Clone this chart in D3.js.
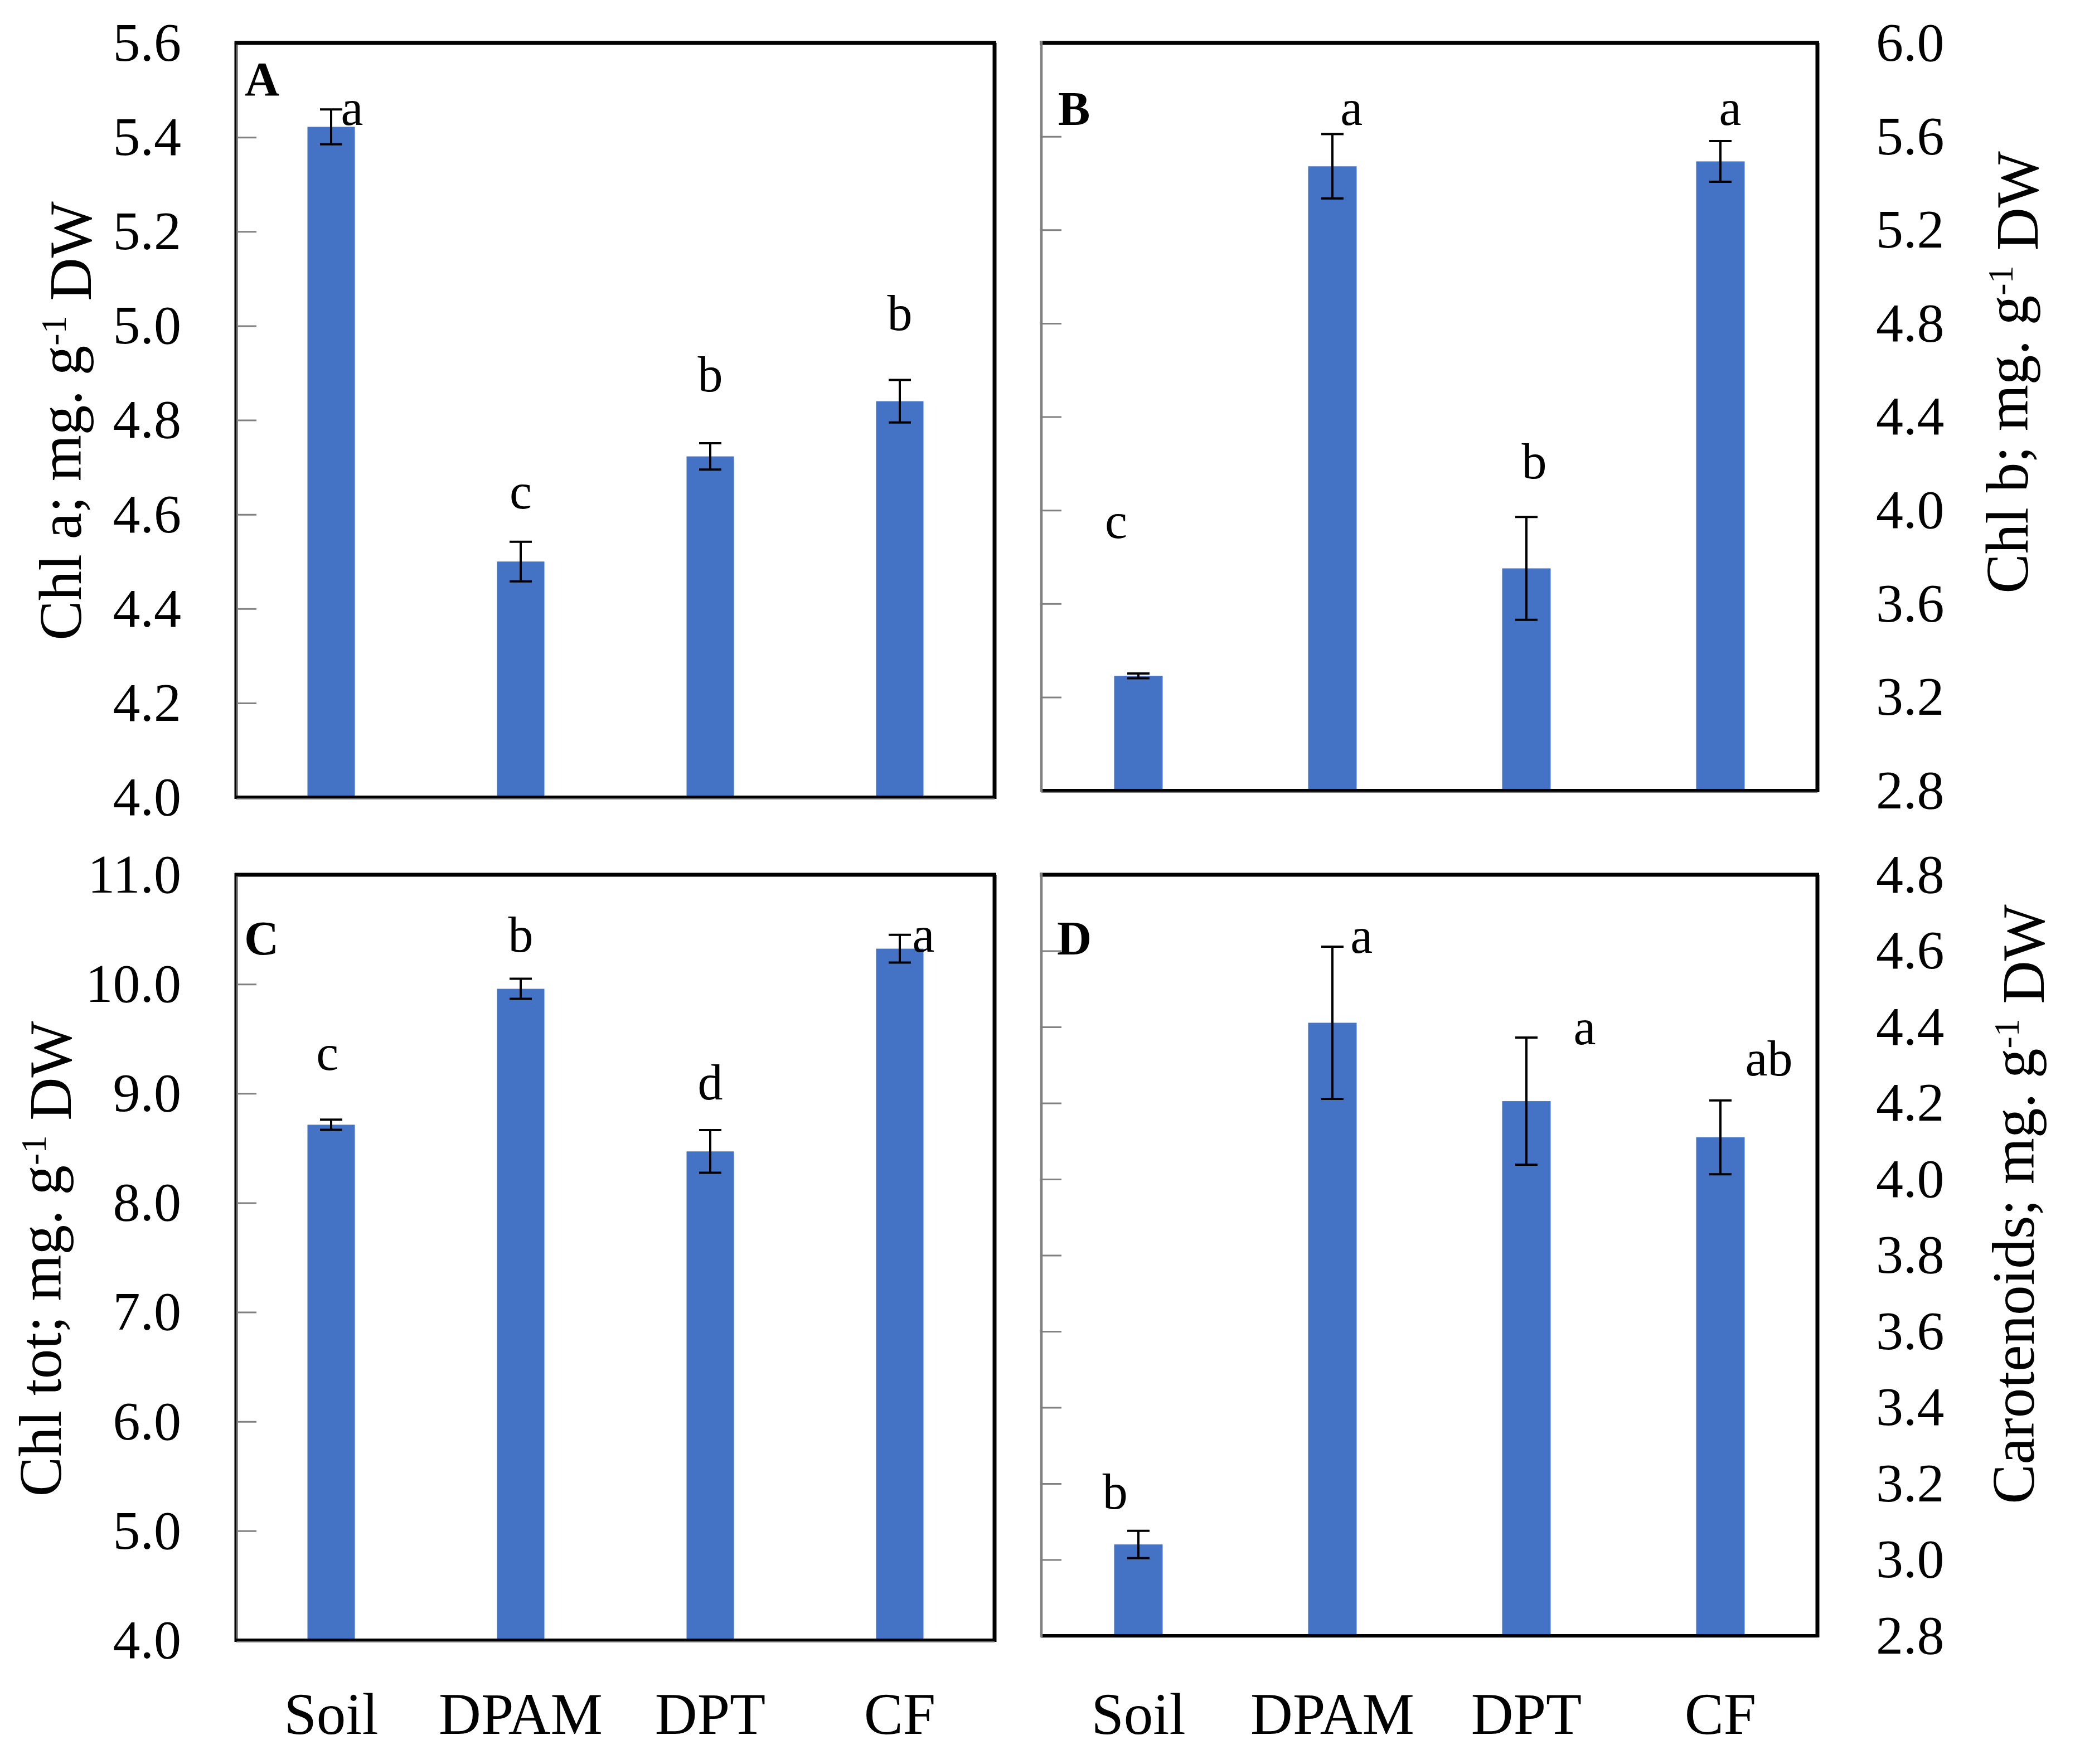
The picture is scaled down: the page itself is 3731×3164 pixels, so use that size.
<!DOCTYPE html>
<html lang="en">
<head>
<meta charset="UTF-8">
<title>Chl a, Chl b, Chl tot, Carotenoids</title>
<script src="https://cdn.jsdelivr.net/npm/d3@7/dist/d3.min.js"></script>
<style>
  body { margin: 0; background: #fff; }
  svg text { font-family: "Palatino Linotype", "Book Antiqua", Palatino, "Liberation Serif", serif; fill: #000; }
</style>
</head>
<body>
<svg id="chart" width="3731" height="3164"></svg>
<script>
// treatments (x axis)
var categories = ["Soil", "DPAM", "DPT", "CF"];

// A: Chl a
var chlA = [5.422, 4.500, 4.723, 4.840];
var chlAErr = [0.037, 0.042, 0.028, 0.045];
var chlALetters = ["a", "c", "b", "b"];
var chlATicks = [4.0, 4.2, 4.4, 4.6, 4.8, 5.0, 5.2, 5.4, 5.6];

// B: Chl b
var chlB = [3.291, 5.472, 3.751, 5.493];
var chlBErr = [0.010, 0.138, 0.220, 0.087];
var chlBLetters = ["c", "a", "b", "a"];
var chlBTicks = [2.8, 3.2, 3.6, 4.0, 4.4, 4.8, 5.2, 5.6, 6.0];

// C: Chl tot
var chlTot = [8.714, 9.957, 8.470, 10.324];
var chlTotErr = [0.046, 0.092, 0.195, 0.127];
var chlTotLetters = ["c", "b", "d", "a"];
var chlTotTicks = [4.0, 5.0, 6.0, 7.0, 8.0, 9.0, 10.0, 11.0];

// D: Carotenoids
var carot = [3.040, 4.411, 4.205, 4.110];
var carotErr = [0.036, 0.200, 0.167, 0.097];
var carotLetters = ["b", "a", "a", "ab"];
var carotTicks = [2.8, 3.0, 3.2, 3.4, 3.6, 3.8, 4.0, 4.2, 4.4, 4.6, 4.8];

// layout of the four panels
var panels = [
  { tag: "A", tagPos: [439, 171], x0: 424, x1: 1784, y0: 77, y1: 1430, domain: [4.0, 5.6],
    values: chlA, err: chlAErr, letters: chlALetters, ticks: chlATicks, side: "left",
    title: "Chl a; mg. g", titleX: 145, titleY: 755, xLabels: false,
    letterAt: [5.426, 4.613, 4.861, 4.991], letterDx: [0.11, 0, 0, 0] },
  { tag: "B", tagPos: [1898, 224], x0: 1868, x1: 3260, y0: 77, y1: 1418, domain: [2.8, 6.0],
    values: chlB, err: chlBErr, letters: chlBLetters, ticks: chlBTicks, side: "right",
    title: "Chl b; mg. g", titleX: 3637, titleY: 668, xLabels: false,
    letterAt: [3.881, 5.649, 4.137, 5.649], letterDx: [-0.115, 0.098, 0.04, 0.05] },
  { tag: "C", tagPos: [438, 1712], x0: 424, x1: 1784, y0: 1569, y1: 2942, domain: [4.0, 11.0],
    values: chlTot, err: chlTotErr, letters: chlTotLetters, ticks: chlTotTicks, side: "left",
    title: "Chl tot; mg. g", titleX: 109, titleY: 2258, xLabels: true,
    letterAt: [9.216, 10.296, 8.946, 10.296], letterDx: [-0.02, 0, 0, 0.125] },
  { tag: "D", tagPos: [1896, 1712], x0: 1868, x1: 3260, y0: 1569, y1: 2934, domain: [2.8, 4.8],
    values: carot, err: carotErr, letters: carotLetters, ticks: carotTicks, side: "right",
    title: "Carotenoids; mg. g", titleX: 3648, titleY: 2160, xLabels: true,
    letterAt: [3.134, 4.595, 4.355, 4.273], letterDx: [-0.12, 0.15, 0.3, 0.25] }
];

var svg = d3.select("#chart");
svg.append("rect").attr("width", 3731).attr("height", 3164).attr("fill", "#fff");

var barColor = "#4472C4";
var fmt = d3.format(".1f");

panels.forEach(function(p) {
  var x = d3.scaleBand().domain(categories).range([p.x0, p.x1]).padding(0);
  var y = d3.scaleLinear().domain(p.domain).range([p.y1, p.y0]);
  var bw = x.bandwidth() * 0.25;
  var g = svg.append("g");

  // bars
  g.selectAll("rect.bar")
    .data(p.values)
    .enter()
    .append("rect")
    .attr("class", "bar")
    .attr("x", function(d, i) { return x(categories[i]) + x.bandwidth() / 2 - bw / 2; })
    .attr("y", function(d) { return y(d); })
    .attr("width", bw)
    .attr("height", function(d) { return y(p.domain[0]) - y(d); })
    .attr("fill", barColor);

  // inward ticks on the left edge
  var leftAxis = d3.axisLeft(y).tickValues(p.ticks).tickSize(-36)
    .tickPadding(p.side === "left" ? 99 : 0)
    .tickFormat(p.side === "left" ? fmt : "");
  var la = g.append("g").attr("transform", "translate(" + p.x0 + ",0)").call(leftAxis);
  la.attr("font-size", null).attr("font-family", null);
  la.select(".domain").remove();
  la.selectAll("line").attr("stroke", "#808080").attr("stroke-width", 3);
  la.selectAll("text").style("font-size", "98px");

  if (p.side === "right") {
    var ra = g.append("g").attr("transform", "translate(" + p.x1 + ",0)")
      .call(d3.axisRight(y).tickValues(p.ticks).tickSize(0).tickPadding(105).tickFormat(fmt));
    ra.attr("font-size", null).attr("font-family", null);
    ra.select(".domain").remove();
    ra.selectAll("text").style("font-size", "98px");
  }

  // frame
  g.append("line").attr("x1", p.x0 - 3).attr("x2", p.x1 + 3).attr("y1", p.y0).attr("y2", p.y0)
    .attr("stroke", "#000").attr("stroke-width", 7);
  g.append("line").attr("x1", p.x1).attr("x2", p.x1).attr("y1", p.y0).attr("y2", p.y1 + 3)
    .attr("stroke", "#000").attr("stroke-width", 7);
  g.append("line").attr("x1", p.x0).attr("x2", p.x1 + 3).attr("y1", p.y1).attr("y2", p.y1)
    .attr("stroke", "#000").attr("stroke-width", 6);
  g.append("line").attr("x1", p.x0).attr("x2", p.x1).attr("y1", p.y1 + 3).attr("y2", p.y1 + 3)
    .attr("stroke", "#808080").attr("stroke-width", 2);
  if (p.side === "left") {
    g.append("line").attr("x1", p.x0 - 1.5).attr("x2", p.x0 - 1.5).attr("y1", p.y0 - 3).attr("y2", p.y1 + 3)
      .attr("stroke", "#000").attr("stroke-width", 4);
    g.append("line").attr("x1", p.x0 + 1.5).attr("x2", p.x0 + 1.5).attr("y1", p.y0 + 3).attr("y2", p.y1 - 3)
      .attr("stroke", "#808080").attr("stroke-width", 3);
  } else {
    g.append("line").attr("x1", p.x0).attr("x2", p.x0).attr("y1", p.y0 - 3).attr("y2", p.y1 + 3)
      .attr("stroke", "#808080").attr("stroke-width", 4.5);
  }

  // error bars
  var eb = g.selectAll("g.err")
    .data(p.values)
    .enter()
    .append("g")
    .attr("class", "err")
    .attr("stroke", "#000")
    .attr("stroke-width", 4);
  eb.append("line")
    .attr("x1", function(d, i) { return x(categories[i]) + x.bandwidth() / 2; })
    .attr("x2", function(d, i) { return x(categories[i]) + x.bandwidth() / 2; })
    .attr("y1", function(d, i) { return y(d + p.err[i]); })
    .attr("y2", function(d, i) { return y(d - p.err[i]); });
  [1, -1].forEach(function(s) {
    eb.append("line")
      .attr("x1", function(d, i) { return x(categories[i]) + x.bandwidth() / 2 - 20; })
      .attr("x2", function(d, i) { return x(categories[i]) + x.bandwidth() / 2 + 20; })
      .attr("y1", function(d, i) { return y(d + s * p.err[i]); })
      .attr("y2", function(d, i) { return y(d + s * p.err[i]); });
  });

  // significance letters
  g.selectAll("text.sig")
    .data(p.letters)
    .enter()
    .append("text")
    .attr("class", "sig")
    .attr("x", function(d, i) { return x(categories[i]) + x.bandwidth() * (0.5 + p.letterDx[i]); })
    .attr("y", function(d, i) { return y(p.letterAt[i]); })
    .attr("text-anchor", "middle")
    .style("font-size", "90px")
    .text(function(d) { return d; });

  // panel tag
  g.append("text")
    .attr("x", p.tagPos[0]).attr("y", p.tagPos[1])
    .style("font-size", "86px").style("font-weight", "bold")
    .text(p.tag);

  // axis title
  var t = g.append("text")
    .attr("transform", "translate(" + p.titleX + "," + p.titleY + ") rotate(-90)")
    .attr("text-anchor", "middle")
    .style("font-size", "107px");
  t.append("tspan").text(p.title);
  t.append("tspan").attr("dy", "-0.42em").style("font-size", "64px").text("-1");
  t.append("tspan").attr("dy", "0.42em").text(" DW");

  // category labels
  if (p.xLabels) {
    g.selectAll("text.cat")
      .data(categories)
      .enter()
      .append("text")
      .attr("class", "cat")
      .attr("x", function(d) { return x(d) + x.bandwidth() / 2; })
      .attr("y", 3110)
      .attr("text-anchor", "middle")
      .style("font-size", "105px")
      .text(function(d) { return d; });
  }
});
</script>
</body>
</html>
